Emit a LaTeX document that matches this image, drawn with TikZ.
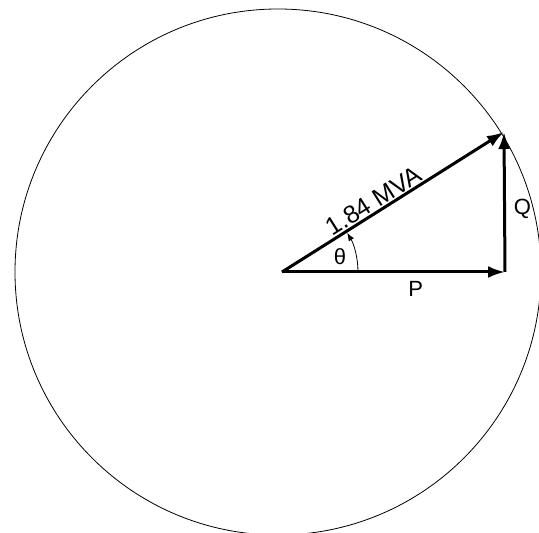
\documentclass[tikz,border=0pt]{standalone}
\usepackage{fontspec}
\setmainfont{Liberation Sans}
\usetikzlibrary{arrows.meta, positioning, calc}

\begin{document}
\begin{tikzpicture}[
  x=1pt, y=1pt,
  vector/.style={draw, line width=3pt, -{Latex[length=17pt,width=12pt]}},
  labeltext/.style={font=\fontsize{22}{26}\selectfont, inner sep=1pt}
]
\useasboundingbox (0,0) rectangle (539,533);
\clip (0,0) rectangle (539,533);

% points of the triangle
\coordinate (centre) at (278,261);
\coordinate (origin) at (282,261);
\coordinate (pEnd) at (505,261);
\coordinate (tip) at (504,401);

% circle of constant apparent power
\draw[line width=0.8pt] (centre) circle[radius=263];

% power vectors
\draw[vector] (origin) -- (pEnd);
\draw[vector] (pEnd) -- (tip);
\draw[vector] (origin) -- node[labeltext, font=\fontsize{25}{28}\selectfont, pos=0.44, sloped, above] (sLabel) {1.84 MVA} (tip);

% angle
\draw[line width=0.8pt, -{Latex[length=8pt,width=6pt]}] ($(origin)+(76,0)$) arc[start angle=0, end angle=31, radius=76];

\node[labeltext] (theta) at (340,276) {θ};
\node[labeltext, below=8pt of $(origin)!0.6!(pEnd)$] (pLabel) {P};
\node[labeltext, right=8pt of $(pEnd)!0.45!(tip)$] (qLabel) {Q};
\end{tikzpicture}
\end{document}
